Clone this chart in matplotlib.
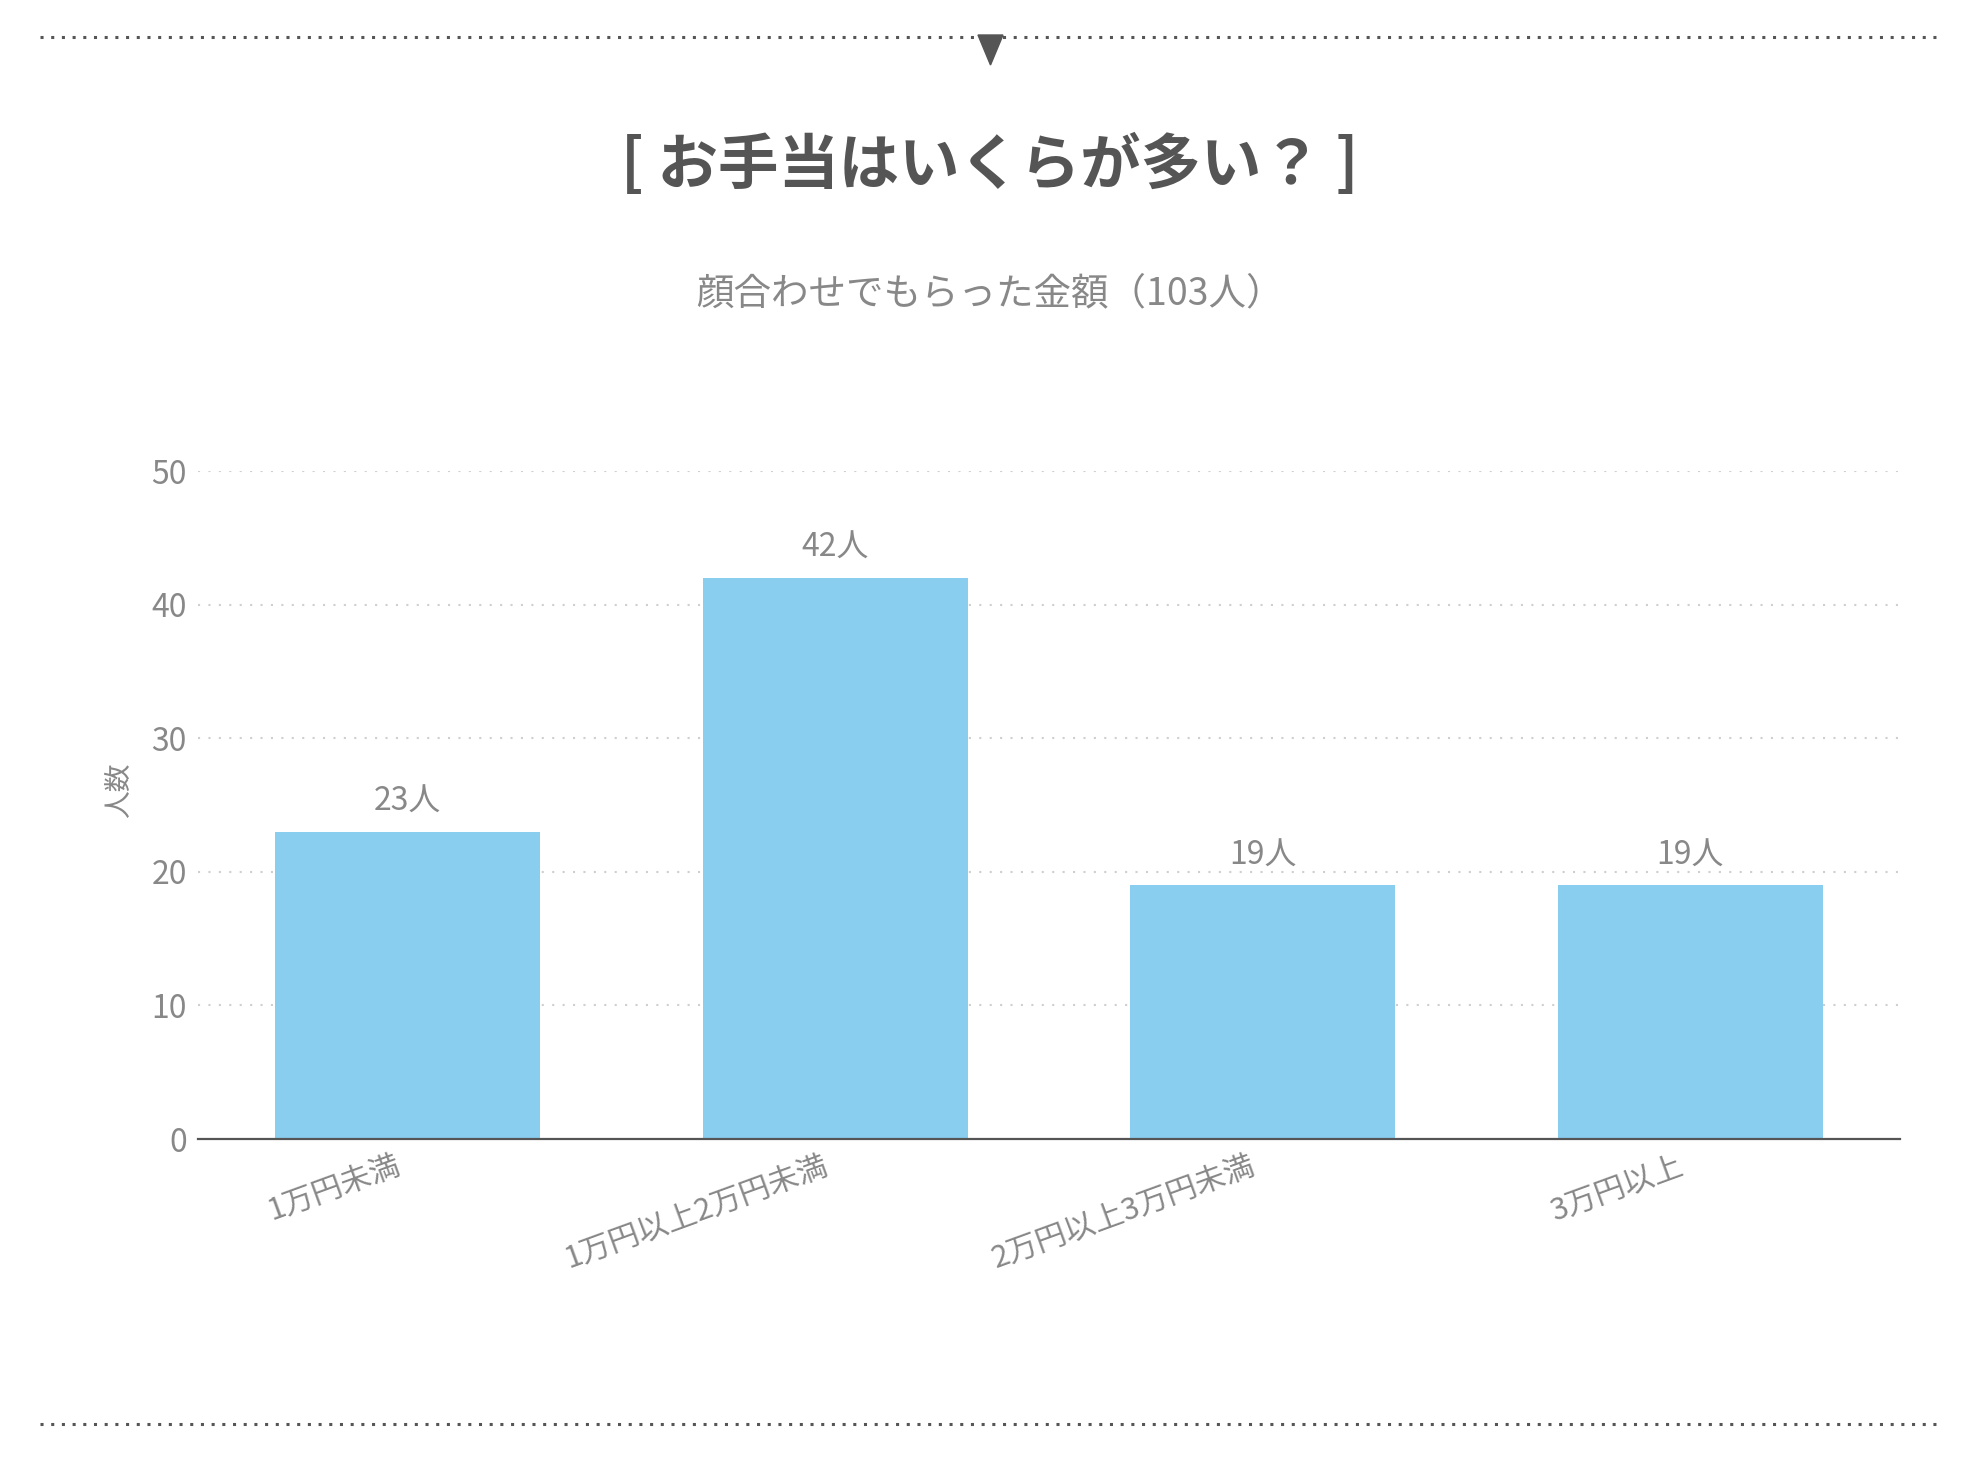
import matplotlib
matplotlib.use("Agg")
import matplotlib.pyplot as plt
from matplotlib.lines import Line2D
from matplotlib.patches import Polygon
from matplotlib.transforms import ScaledTranslation

plt.rcParams['font.family'] = ['Noto Sans CJK JP', 'DejaVu Sans']

# data
categories = ["1万円未満", "1万円以上2万円未満", "2万円以上3万円未満", "3万円以上"]
counts = [23, 42, 19, 19]
yticks = [0, 10, 20, 30, 40, 50]

title = "[ お手当はいくらが多い？ ]"
subtitle = "顔合わせでもらった金額（103人）"
ylabel = "人数"

W, H = 1980, 1460
fig = plt.figure(figsize=(W / 100, H / 100), dpi=100)

# plot area (pixels measured on the reference)
left, right, bottom, top = 198, 1900, 1139, 471
ax = fig.add_axes([left / W, 1 - bottom / H, (right - left) / W, (bottom - top) / H])

x = list(range(len(categories)))
bars = ax.bar(x, counts, width=0.62, color="#89cdef", zorder=2)
ax.bar_label(bars, labels=[f"{c}人" for c in counts], padding=10,
             fontsize=23, color="#888888")

ax.set_xlim(-0.49, len(categories) - 0.51)
ax.set_ylim(0, 50)
ax.set_yticks(yticks)
ax.set_yticklabels([str(t) for t in yticks])
ax.tick_params(axis="y", length=0, pad=8, labelsize=23, labelcolor="#888888")
ax.set_xticks(x)
ax.set_xticklabels(categories, rotation=20, ha="right", va="top",
                   rotation_mode="anchor")
ax.tick_params(axis="x", length=0, pad=8, labelsize=22, labelcolor="#888888")
shift = ScaledTranslation(-14 / 100, 0, fig.dpi_scale_trans)
for lab in ax.get_xticklabels():
    lab.set_transform(lab.get_transform() + shift)

for s in ["top", "right", "left"]:
    ax.spines[s].set_visible(False)
ax.spines["bottom"].set_color("#555555")
ax.spines["bottom"].set_linewidth(1.6)
ax.spines["bottom"].set_zorder(3)

for t in yticks[1:]:
    ax.axhline(t, color="#cfcfcf", lw=1.5, linestyle=(0, (1, 4)), zorder=1)

fig.text(119 / W, 1 - 790 / H, ylabel, rotation=90, ha="center", va="center",
         fontsize=20, color="#888888")

fig.text(0.5, 1 - 166 / H, title, ha="center", va="center", fontsize=43.5,
         fontweight="bold", color="#555555")
fig.text(0.5, 1 - 294 / H, subtitle, ha="center", va="center", fontsize=27,
         color="#888888")

# dotted separators
for yy in (37, 1424):
    fig.add_artist(Line2D([40 / W, 1941 / W], [1 - yy / H, 1 - yy / H],
                          transform=fig.transFigure, color="#555555", lw=2.2,
                          linestyle=(0, (1, 2.5)), solid_capstyle="butt",
                          dash_capstyle="butt"))
tri = Polygon([[978 / W, 1 - 35 / H], [1003 / W, 1 - 35 / H], [990.5 / W, 1 - 65 / H]],
              closed=True, transform=fig.transFigure, color="#555555")
fig.add_artist(tri)

fig.savefig("out.png", dpi=100, facecolor="white")
